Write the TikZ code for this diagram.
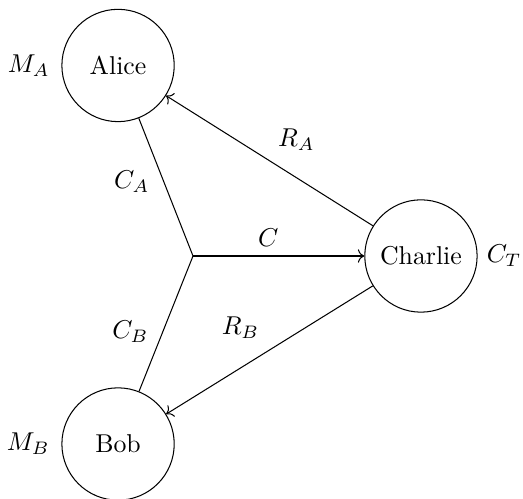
\documentclass[tikz,border=0pt]{standalone}
\usepackage{amsmath}
\usetikzlibrary{arrows.meta,positioning,calc}
\tikzset{
  party/.style={circle, draw, minimum size=15.3mm},
  wire/.style={->},
}
\begin{document}
\begin{tikzpicture}
    \useasboundingbox (-2.629,3.487) rectangle (4.495,-3.310);
    \node[party, label={[label distance=1pt]left:$M_A$}] (alice) at (-1.021,2.595) {Alice};
    \node[party, label={[label distance=1pt]left:$M_B$}] (bob) at (-1.021,-2.561) {Bob};
    \node[party, label={right:$C_T$}] (charlie) at (3.105,0) {Charlie};
    \coordinate (j) at (0,0);
    % channels into the junction
    \draw (alice) -- node[left=2pt, pos=0.46]{$C_A$} (j);
    \draw (bob) -- node[left=2pt, pos=0.44]{$C_B$} (j);
    \draw[wire] (j) -- node[above, pos=0.44]{$C$} (charlie);
    % replies
    \draw[wire] (charlie) -- node[above=7pt, pos=0.37]{$R_A$} (alice);
    \draw[wire] (charlie) -- node[above=8pt, pos=0.64]{$R_B$} (bob);
\end{tikzpicture}
\end{document}
